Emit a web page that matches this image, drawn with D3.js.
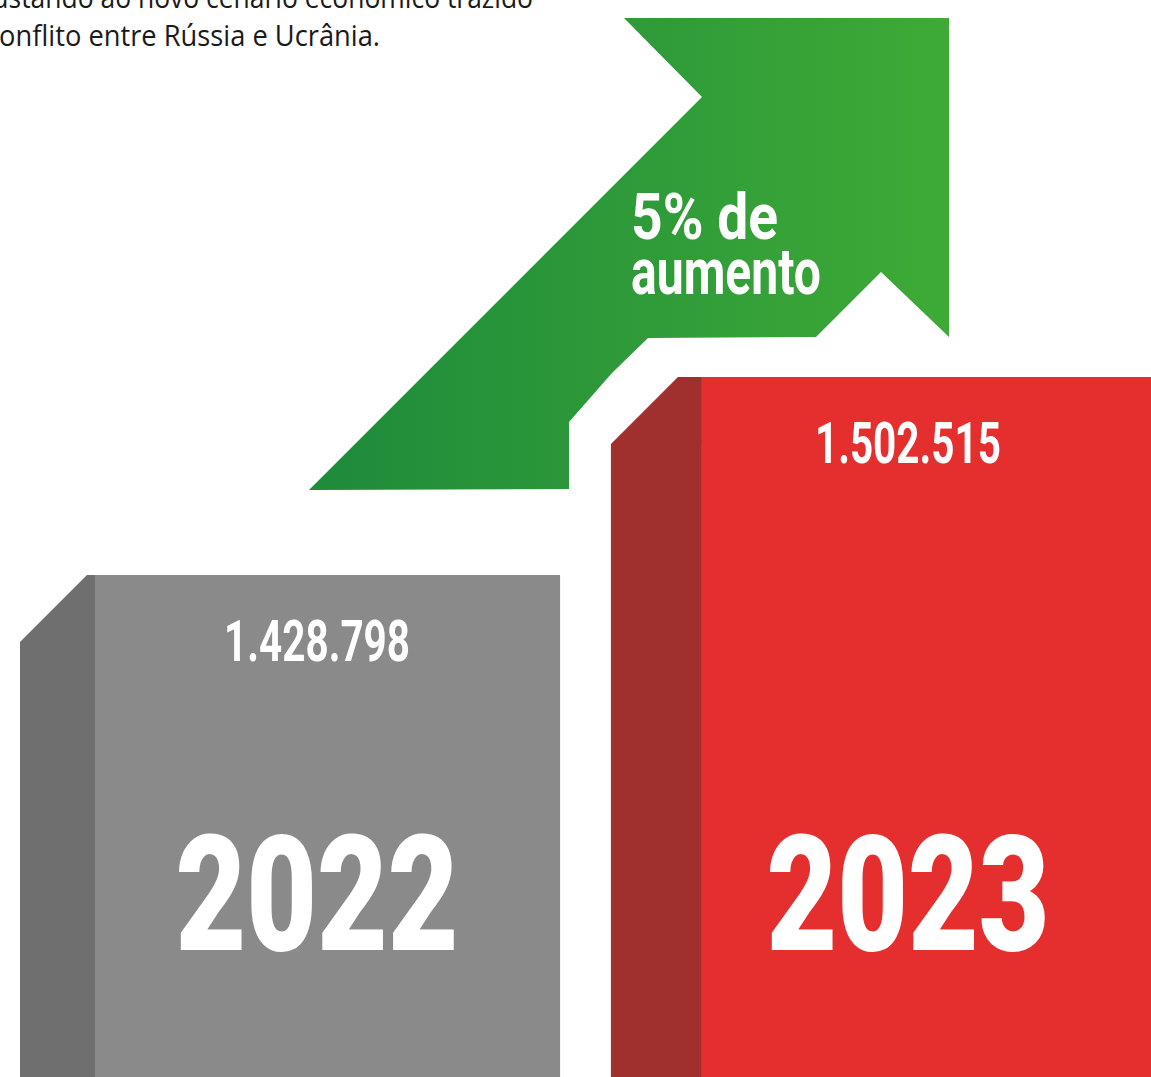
<!DOCTYPE html>
<html>
<head>
<meta charset="utf-8">
<script src="https://cdn.jsdelivr.net/npm/d3@7"></script>
<style>
  html, body { margin: 0; padding: 0; background: #fff; overflow: hidden; }
  svg { display: block; }
</style>
</head>
<body>
<svg id="chart"></svg>
<script>
// Dimensions of the page
const width = 1151;
const height = 1077;

// Data
const years = ["2022", "2023"];
const totals = [1428798, 1502515];
const valueLabels = ["1.428.798", "1.502.515"];
const growthLabel = ["5% de", "aumento"];
const introLines = [
    "ajustando ao novo cenário econômico trazido",
    "conflito entre Rússia e Ucrânia."
];

// Styles
const frontColors = ["#8a8a8a", "#e52f2f"];
const sideColors = ["#6f6f6f", "#a0302e"];
const sideDepth = [75, 91];
const chamfer = 67;
const condensed = "Roboto, 'DejaVu Sans Condensed', sans-serif";

const svg = d3.select("#chart")
    .attr("width", width)
    .attr("height", height);

// Scales: bars start off-baseline, so the domain starts below the smaller value
const x = d3.scaleBand()
    .domain(years)
    .range([20, width])
    .paddingInner(0.086);

const y = d3.scaleLinear()
    .domain([1241900, 1502515])
    .range([height, 377]);

const bars = years.map((yr, i) => ({ year: yr, total: totals[i], label: valueLabels[i], i }));

// Side (darker) faces with the chamfered top corner
svg.selectAll("path.side")
    .data(bars)
    .enter()
    .append("path")
    .attr("class", "side")
    .attr("fill", d => sideColors[d.i])
    .attr("d", d => {
        const x0 = x(d.year), x1 = x0 + sideDepth[d.i], top = y(d.total);
        return `M${x0},${height}L${x0},${top + chamfer}L${x0 + chamfer},${top}L${x1},${top}L${x1},${height}Z`;
    });

// Front faces
svg.selectAll("rect.front")
    .data(bars)
    .enter()
    .append("rect")
    .attr("class", "front")
    .attr("x", d => x(d.year) + sideDepth[d.i])
    .attr("y", d => y(d.total))
    .attr("width", d => x.bandwidth() - sideDepth[d.i])
    .attr("height", d => height - y(d.total))
    .attr("fill", d => frontColors[d.i]);

// Value labels
svg.selectAll("text.value")
    .data(bars)
    .enter()
    .append("text")
    .attr("class", "value")
    .attr("x", d => x(d.year) + x.bandwidth() * 0.55)
    .attr("y", d => y(d.total) + 86)
    .attr("text-anchor", "middle")
    .attr("fill", "#fff")
    .attr("font-family", condensed)
    .attr("font-weight", 700)
    .attr("font-size", 58)
    .attr("textLength", 186)
    .attr("lengthAdjust", "spacingAndGlyphs")
    .text(d => d.label);

// Year labels
svg.selectAll("text.year")
    .data(bars)
    .enter()
    .append("text")
    .attr("class", "year")
    .attr("x", d => x(d.year) + x.bandwidth() * 0.55)
    .attr("y", 950)
    .attr("text-anchor", "middle")
    .attr("fill", "#fff")
    .attr("font-family", condensed)
    .attr("font-weight", 900)
    .attr("font-size", 162)
    .attr("textLength", 283)
    .attr("lengthAdjust", "spacingAndGlyphs")
    .text(d => d.year);

// Growth arrow (decorative outline)
const arrowShape = [
    [624, 18], [949, 18], [949, 337], [881, 272], [816, 337], [648, 338],
    [612, 373], [569, 422], [569, 489], [309, 490], [702, 97]
];

const grad = svg.append("defs")
    .append("linearGradient")
    .attr("id", "greenGrad")
    .attr("gradientUnits", "userSpaceOnUse")
    .attr("x1", 309).attr("x2", 949)
    .attr("y1", 0).attr("y2", 0);
grad.append("stop").attr("offset", "0%").attr("stop-color", "#1e8a3b");
grad.append("stop").attr("offset", "100%").attr("stop-color", "#3eaa36");

svg.append("path")
    .attr("d", d3.line()(arrowShape) + "Z")
    .attr("fill", "url(#greenGrad)");

svg.selectAll("text.growth")
    .data(growthLabel)
    .enter()
    .append("text")
    .attr("class", "growth")
    .attr("x", 631)
    .attr("y", (d, i) => 239 + i * 55)
    .attr("fill", "#fff")
    .attr("font-family", condensed)
    .attr("font-weight", 700)
    .attr("font-size", 64)
    .attr("textLength", (d, i) => i === 0 ? 147 : 190)
    .attr("lengthAdjust", "spacingAndGlyphs")
    .text(d => d);

// Intro paragraph, cut at the top-left edge
svg.selectAll("text.intro")
    .data(introLines)
    .enter()
    .append("text")
    .attr("class", "intro")
    .attr("x", (d, i) => i === 0 ? 533 : 380)
    .attr("y", (d, i) => 8 + i * 38)
    .attr("text-anchor", "end")
    .attr("fill", "#1a1a1a")
    .attr("font-family", "'Open Sans', 'Noto Sans', sans-serif")
    .attr("font-size", 29)
    .attr("textLength", (d, i) => i === 0 ? 562 : 394)
    .attr("lengthAdjust", "spacingAndGlyphs")
    .text(d => d);
</script>
</body>
</html>
